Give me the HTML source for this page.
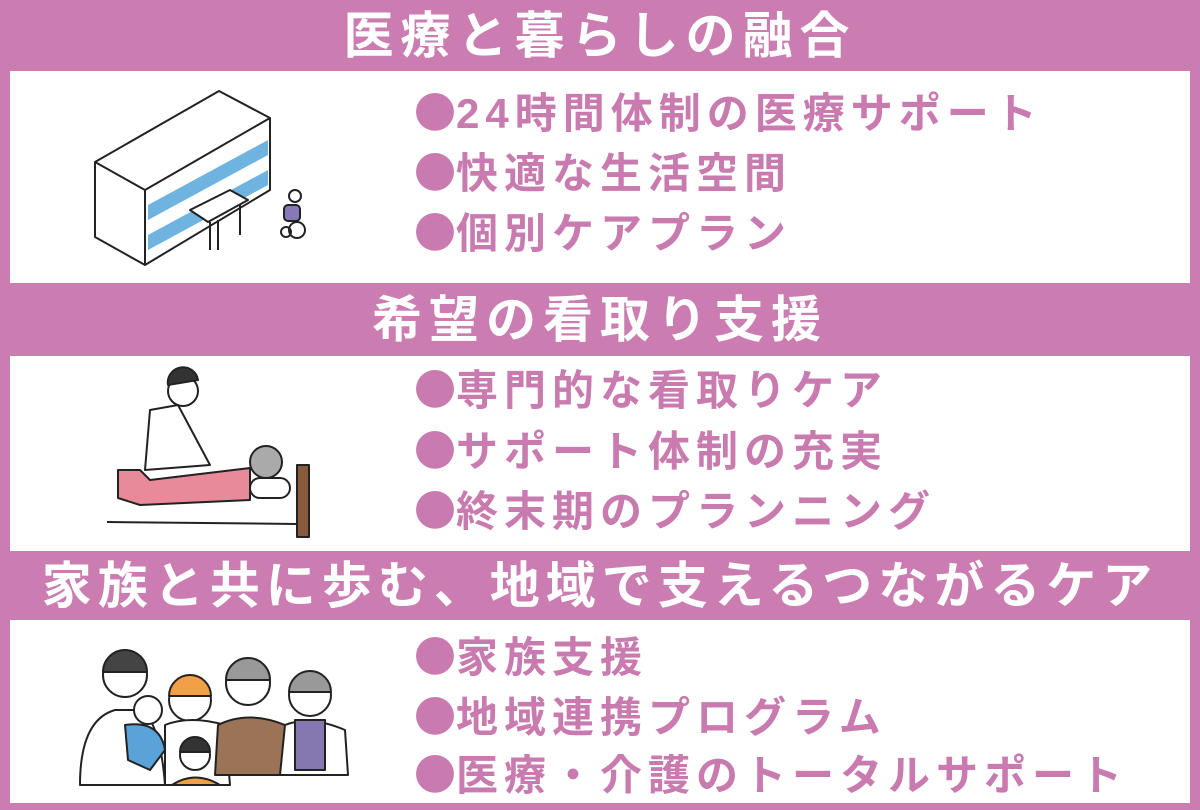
<!DOCTYPE html>
<html><head><meta charset="utf-8"><style>
body{margin:0;width:1200px;height:810px;background:#cb7db1;position:relative;overflow:hidden;font-family:"Liberation Sans","Noto Sans CJK JP",sans-serif}
.box{position:absolute;left:10px;width:1180px;background:#fff}
.h{position:absolute;left:0;width:1200px;text-align:center;color:#fff;font-weight:bold;font-size:50px;line-height:60px;letter-spacing:7px}
.b{position:absolute;left:414px;color:#c97bb0;font-weight:bold;font-size:42px;line-height:50px;white-space:nowrap;letter-spacing:6px}
.d{font-family:"Noto Sans CJK JP",sans-serif;letter-spacing:0}
svg{position:absolute}
</style></head><body>
<div class="h" style="top:6px">医療と暮らしの融合</div>
<div class="box" style="top:71px;height:212px"></div>
<div class="h" style="top:290px">希望の看取り支援</div>
<div class="box" style="top:356px;height:195px"></div>
<div class="h" style="top:556px;font-size:50px;letter-spacing:6px">家族と共に歩む、地域で支えるつながるケア</div>
<div class="box" style="top:620px;height:183px"></div>

<div class="b" style="top:86px"><span class="d">●</span>24時間体制の医療サポート</div>
<div class="b" style="top:146px"><span class="d">●</span>快適な生活空間</div>
<div class="b" style="top:206px"><span class="d">●</span>個別ケアプラン</div>
<div class="b" style="top:363px"><span class="d">●</span>専門的な看取りケア</div>
<div class="b" style="top:424px"><span class="d">●</span>サポート体制の充実</div>
<div class="b" style="top:484px"><span class="d">●</span>終末期のプランニング</div>
<div class="b" style="top:630px"><span class="d">●</span>家族支援</div>
<div class="b" style="top:690px"><span class="d">●</span>地域連携プログラム</div>
<div class="b" style="top:748px"><span class="d">●</span>医療・介護のトータルサポート</div>

<svg style="left:0;top:0" width="400" height="810" viewBox="0 0 400 810" fill="none" stroke="#222" stroke-width="2" stroke-linejoin="round">
<polygon points="95,162 219,91 270,118 270,190 145,265 95,237" fill="#fff"/>
<polyline points="95,162 145,190 270,118"/>
<line x1="145" y1="190" x2="145" y2="265"/>
<g fill="#6fb3e0" stroke="none">
<polygon points="148,205 268,140 268,155 148,220"/>
<polygon points="148,235 268,170 268,185 148,250"/>
</g>
<polygon points="190,210 230,190 248,200 208,222" fill="#fff"/>
<line x1="210" y1="222" x2="210" y2="250"/><line x1="218" y1="220" x2="218" y2="250"/>
<line x1="240" y1="205" x2="240" y2="235"/>
<circle cx="295" cy="196" r="6" fill="#fff"/>
<rect x="284" y="205" width="16" height="16" rx="4" fill="#8878b8"/>
<circle cx="286" cy="232" r="5"/><circle cx="297" cy="230" r="8"/>
<rect x="297" y="465" width="12" height="72" fill="#8a5a3c"/>
<line x1="107" y1="522" x2="297" y2="524"/>
<rect x="250" y="478" width="40" height="20" rx="10" fill="#fff"/>
<circle cx="266" cy="462" r="16" fill="#aaa"/>
<path d="M118 470 L140 470 L150 480 L250 468 L250 500 L140 505 L118 498 Z" fill="#e88a9a"/>
<circle cx="183" cy="391" r="15" fill="#fff"/>
<path d="M168 385 a15 15 0 0 1 30 -5 Z" fill="#333"/>
<path d="M150 410 L178 405 L210 465 L145 470 Z" fill="#fff"/>
<g transform="translate(0,520)">
<circle cx="125" cy="155" r="22" fill="#fff"/><path d="M103 152 a22 22 0 0 1 44 0 Z" fill="#444"/>
<path d="M80 265 Q80 200 115 190 L140 190 Q160 200 165 265 Z" fill="#fff"/>
<path d="M125 205 Q160 200 165 230 L150 250 L128 240 Z" fill="#5aa3d8"/>
<circle cx="148" cy="190" r="14" fill="#fff"/>
<circle cx="190" cy="180" r="21" fill="#fff"/><path d="M169 176 a21 21 0 0 1 42 0 Z" fill="#f2a046"/>
<path d="M165 265 L165 205 Q190 195 225 205 L230 265 Z" fill="#fff"/>
<circle cx="195" cy="235" r="15" fill="#fff"/><path d="M180 232 a15 15 0 0 1 30 0 Z" fill="#333"/>
<path d="M172 265 Q195 250 220 265 Z" fill="#f2a046"/>
<circle cx="248" cy="163" r="22" fill="#fff"/><path d="M226 160 a22 22 0 0 1 44 0 Z" fill="#999"/>
<path d="M215 255 L218 205 Q248 190 285 205 L285 255 Z" fill="#9b7457"/>
<circle cx="310" cy="175" r="21" fill="#fff"/><path d="M289 172 a21 21 0 0 1 42 0 Z" fill="#999"/>
<path d="M280 255 L285 205 Q310 195 345 210 L348 255 Z" fill="#fff"/>
<rect x="295" y="200" width="30" height="50" fill="#8577b0"/>
</g>
</svg>
</body></html>
